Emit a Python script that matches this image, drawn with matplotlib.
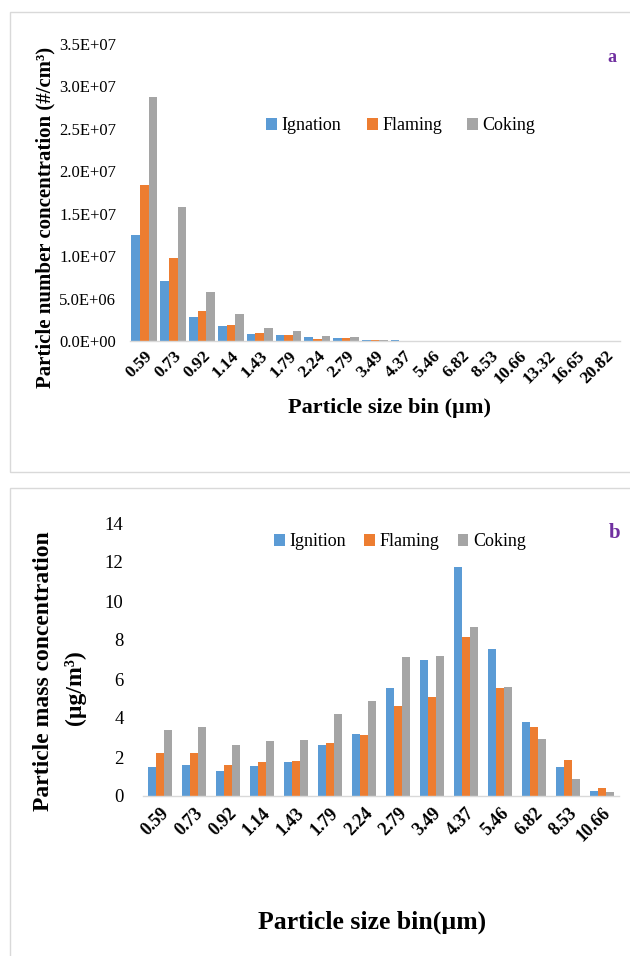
import matplotlib
matplotlib.use('Agg')
import matplotlib.pyplot as plt
from matplotlib.patches import Rectangle, Patch
from matplotlib.ticker import FormatStrFormatter
import numpy as np

plt.rcParams['font.family'] = ['Liberation Serif', 'DejaVu Serif']

# ---------------- data: panel a (number concentration, #/cm3) ----------------
bins_a = ['0.59', '0.73', '0.92', '1.14', '1.43', '1.79', '2.24', '2.79', '3.49',
          '4.37', '5.46', '6.82', '8.53', '10.66', '13.32', '16.65', '20.82']
ignation_a = [12.5e6, 7.05e6, 2.78e6, 1.78e6, 0.88e6, 0.72e6, 0.45e6, 0.30e6, 0.13e6,
              0.13e6, 0, 0, 0, 0, 0, 0, 0]
flaming_a = [18.4e6, 9.75e6, 3.55e6, 1.93e6, 1.0e6, 0.72e6, 0.29e6, 0.30e6, 0.12e6,
             0.01e6, 0, 0, 0, 0, 0, 0, 0]
coking_a = [28.7e6, 15.75e6, 5.75e6, 3.23e6, 1.58e6, 1.18e6, 0.59e6, 0.44e6, 0.12e6,
            0.01e6, 0, 0, 0, 0, 0, 0, 0]
labels_a = ['Ignation', 'Flaming', 'Coking']

# ---------------- data: panel b (mass concentration, ug/m3) ----------------
bins_b = ['0.59', '0.73', '0.92', '1.14', '1.43', '1.79', '2.24', '2.79', '3.49',
          '4.37', '5.46', '6.82', '8.53', '10.66']
ignition_b = [1.49, 1.61, 1.30, 1.53, 1.73, 2.59, 3.19, 5.54, 7.0, 11.72, 7.52, 3.79, 1.48, 0.26]
flaming_b = [2.18, 2.23, 1.61, 1.73, 1.80, 2.73, 3.12, 4.60, 5.07, 8.14, 5.53, 3.52, 1.87, 0.39]
coking_b = [3.36, 3.55, 2.63, 2.80, 2.87, 4.20, 4.88, 7.14, 7.19, 8.67, 5.60, 2.94, 0.86, 0.19]
labels_b = ['Ignition', 'Flaming', 'Coking']

colors = ['#5B9BD5', '#ED7D31', '#A5A5A5']

W, H = 630, 956
fig = plt.figure(figsize=(W / 100, H / 100), dpi=100)


def fx(px):
    return px / W


def fy(py):
    return 1 - py / H


# panel borders
fig.patches.append(Rectangle((fx(10), fy(472)), fx(700) - fx(10), fy(12) - fy(472),
                             transform=fig.transFigure, fill=False,
                             edgecolor='#D9D9D9', lw=1.0))
fig.patches.append(Rectangle((fx(10), fy(1000)), fx(700) - fx(10), fy(488) - fy(1000),
                             transform=fig.transFigure, fill=False,
                             edgecolor='#D9D9D9', lw=1.0))


def style_axes(ax):
    for s in ['top', 'right', 'left']:
        ax.spines[s].set_visible(False)
    ax.spines['bottom'].set_color('#D9D9D9')
    ax.spines['bottom'].set_linewidth(1.0)
    ax.tick_params(axis='both', length=0)


# ---------------- panel a ----------------
axa = fig.add_axes([fx(130), fy(341), fx(620) - fx(130), fy(44) - fy(341)])
xa = np.arange(len(bins_a))
wa = 0.3
for i, (vals, c) in enumerate(zip([ignation_a, flaming_a, coking_a], colors)):
    axa.bar(xa + (i - 1) * wa, vals, width=wa, color=c, label=labels_a[i])
axa.set_xlim(-0.5, len(bins_a) - 0.5)
axa.set_ylim(0, 3.5e7)
axa.set_yticks(np.arange(0, 3.51e7, 0.5e7))
axa.yaxis.set_major_formatter(FormatStrFormatter('%.1E'))
axa.set_xticks(xa)
axa.set_xticklabels(bins_a, rotation=45, ha='right', rotation_mode='anchor',
                    fontsize=12.5, fontweight='bold')
axa.tick_params(axis='y', labelsize=12, pad=10)
axa.tick_params(axis='x', pad=5)
style_axes(axa)

fig.text(fx(45), fy(217), 'Particle number concentration (#/cm³)', rotation=90,
         ha='center', va='center', fontsize=15, fontweight='bold')
fig.text(fx(390), fy(408), 'Particle size bin (µm)', ha='center', va='center',
         fontsize=16, fontweight='bold')
fig.text(fx(612), fy(58), 'a', ha='center', va='center', fontsize=13,
         fontweight='bold', color='#7030A0')
handles_a = [Patch(facecolor=c, edgecolor='none') for c in colors]
fig.legend(handles_a, labels_a, loc='center', bbox_to_anchor=(fx(401), fy(126)),
           bbox_transform=fig.transFigure, ncol=3, frameon=False, fontsize=13,
           handlelength=0.6, handleheight=0.6, handletextpad=0.25, columnspacing=1.4)

# ---------------- panel b ----------------
axb = fig.add_axes([fx(143), fy(796), fx(619) - fx(143), fy(523) - fy(796)])
xb = np.arange(len(bins_b))
wb = 0.23
for i, (vals, c) in enumerate(zip([ignition_b, flaming_b, coking_b], colors)):
    axb.bar(xb + (i - 1) * wb, vals, width=wb, color=c, label=labels_b[i])
axb.set_xlim(-0.5, len(bins_b) - 0.5)
axb.set_ylim(0, 14)
axb.set_yticks(np.arange(0, 15, 2))
axb.set_xticks(xb)
axb.set_xticklabels(bins_b, rotation=45, ha='right', rotation_mode='anchor',
                    fontsize=13, fontweight='bold')
axb.tick_params(axis='y', labelsize=13.5, pad=14)
axb.tick_params(axis='x', pad=6)
style_axes(axb)

fig.text(fx(44), fy(671), 'Particle mass concentration', rotation=90,
         ha='center', va='center', fontsize=17, fontweight='bold')
fig.text(fx(75), fy(688), '(µg/m³)', rotation=90,
         ha='center', va='center', fontsize=17, fontweight='bold')
fig.text(fx(372), fy(922), 'Particle size bin(µm)', ha='center', va='center',
         fontsize=18.5, fontweight='bold')
fig.text(fx(615), fy(533), 'b', ha='center', va='center', fontsize=15,
         fontweight='bold', color='#7030A0')
handles_b = [Patch(facecolor=c, edgecolor='none') for c in colors]
fig.legend(handles_b, labels_b, loc='center', bbox_to_anchor=(fx(400), fy(542)),
           bbox_transform=fig.transFigure, ncol=3, frameon=False, fontsize=13,
           handlelength=0.6, handleheight=0.6, handletextpad=0.25, columnspacing=1.0)

fig.savefig('out.png', dpi=100)
